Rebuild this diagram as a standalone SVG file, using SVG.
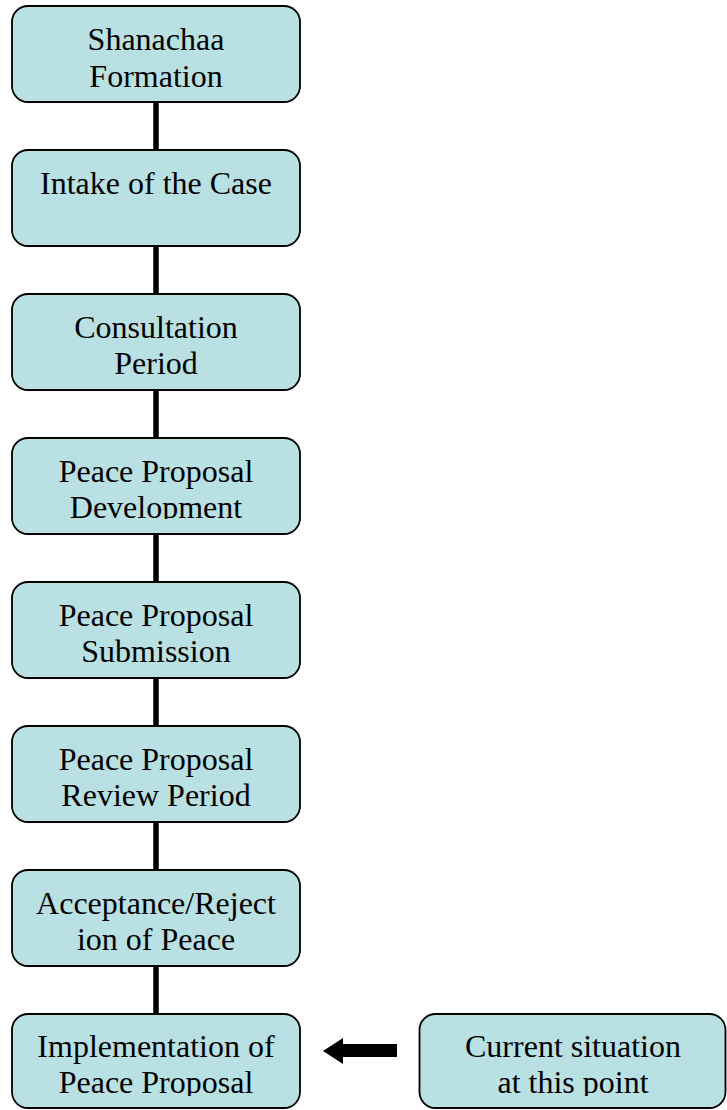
<svg xmlns="http://www.w3.org/2000/svg" width="727" height="1110" viewBox="0 0 727 1110">
  <style>
    .box { fill: #b9e0e3; stroke: #000; stroke-width: 1.8; }
    .lbl { font-family: "Liberation Serif", "Times New Roman", serif; font-size: 32px; fill: #000; text-anchor: middle; }
    .link { stroke: #000; stroke-width: 5.5; fill: none; }
  </style>
  <defs>
    <!-- text is clipped to the inner area of each box -->
    <clipPath id="c1"><rect x="12" y="6" width="288" height="82"/></clipPath>
    <clipPath id="c2"><rect x="12" y="150" width="288" height="82"/></clipPath>
    <clipPath id="c3"><rect x="12" y="294" width="288" height="82"/></clipPath>
    <clipPath id="c4"><rect x="12" y="438" width="288" height="81"/></clipPath>
    <clipPath id="c5"><rect x="12" y="582" width="288" height="82"/></clipPath>
    <clipPath id="c6"><rect x="12" y="726" width="288" height="82"/></clipPath>
    <clipPath id="c7"><rect x="12" y="870" width="288" height="82"/></clipPath>
    <clipPath id="c8"><rect x="12" y="1014" width="288" height="82"/></clipPath>
    <clipPath id="c9"><rect x="419" y="1014" width="307" height="82"/></clipPath>
  </defs>

  <g id="connectors">
    <line class="link" x1="156" y1="102" x2="156" y2="150"/>
    <line class="link" x1="156" y1="246" x2="156" y2="294"/>
    <line class="link" x1="156" y1="390" x2="156" y2="438"/>
    <line class="link" x1="156" y1="534" x2="156" y2="582"/>
    <line class="link" x1="156" y1="678" x2="156" y2="726"/>
    <line class="link" x1="156" y1="822" x2="156" y2="870"/>
    <line class="link" x1="156" y1="966" x2="156" y2="1014"/>
    <!-- block arrow pointing at the last step -->
    <polygon points="323,1051 343,1038 343,1044 397,1044 397,1057 343,1057 343,1064" fill="#000"/>
  </g>

  <g id="step1">
    <rect class="box" x="12" y="6" width="288" height="96" rx="16"/>
    <g clip-path="url(#c1)">
      <text class="lbl" x="156" y="50">Shanachaa</text>
      <text class="lbl" x="156" y="87">Formation</text>
    </g>
  </g>
  <g id="step2">
    <rect class="box" x="12" y="150" width="288" height="96" rx="16"/>
    <g clip-path="url(#c2)">
      <text class="lbl" x="156" y="194">Intake of the Case</text>
    </g>
  </g>
  <g id="step3">
    <rect class="box" x="12" y="294" width="288" height="96" rx="16"/>
    <g clip-path="url(#c3)">
      <text class="lbl" x="156" y="338">Consultation</text>
      <text class="lbl" x="156" y="374">Period</text>
    </g>
  </g>
  <g id="step4">
    <rect class="box" x="12" y="438" width="288" height="96" rx="16"/>
    <g clip-path="url(#c4)">
      <text class="lbl" x="156" y="482">Peace Proposal</text>
      <text class="lbl" x="156" y="518">Development</text>
    </g>
  </g>
  <g id="step5">
    <rect class="box" x="12" y="582" width="288" height="96" rx="16"/>
    <g clip-path="url(#c5)">
      <text class="lbl" x="156" y="626">Peace Proposal</text>
      <text class="lbl" x="156" y="662">Submission</text>
    </g>
  </g>
  <g id="step6">
    <rect class="box" x="12" y="726" width="288" height="96" rx="16"/>
    <g clip-path="url(#c6)">
      <text class="lbl" x="156" y="770">Peace Proposal</text>
      <text class="lbl" x="156" y="806">Review Period</text>
    </g>
  </g>
  <g id="step7">
    <rect class="box" x="12" y="870" width="288" height="96" rx="16"/>
    <g clip-path="url(#c7)">
      <text class="lbl" x="156" y="914">Acceptance/Reject</text>
      <text class="lbl" x="156" y="950">ion of Peace</text>
    </g>
  </g>
  <g id="step8">
    <rect class="box" x="12" y="1014" width="288" height="94" rx="16"/>
    <g clip-path="url(#c8)">
      <text class="lbl" x="156" y="1057">Implementation of</text>
      <text class="lbl" x="156" y="1093">Peace Proposal</text>
    </g>
  </g>
  <g id="current">
    <rect class="box" x="419.5" y="1014" width="306" height="94" rx="16"/>
    <g clip-path="url(#c9)">
      <text class="lbl" x="573" y="1057">Current situation</text>
      <text class="lbl" x="573" y="1093">at this point</text>
    </g>
  </g>
</svg>
